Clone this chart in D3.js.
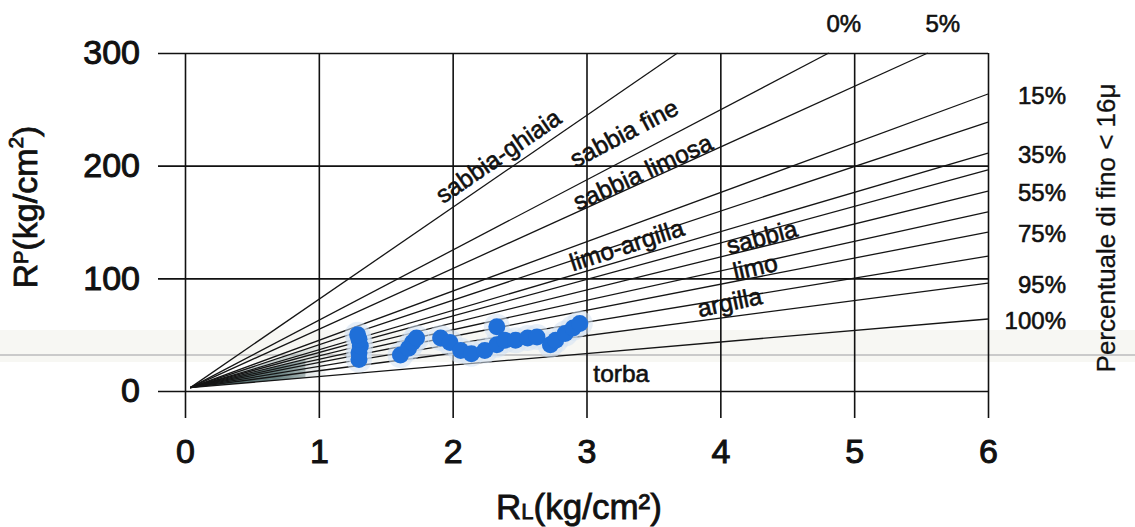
<!DOCTYPE html>
<html>
<head>
<meta charset="utf-8">
<script src="https://cdn.jsdelivr.net/npm/d3@7"></script>
<style>
  body { margin: 0; background: #fff; }
  svg { font-family: "Liberation Sans", Arial, sans-serif; }
</style>
</head>
<body>
<div id="chart"></div>
<script>
// chart size
const width = 1135;
const height = 527;

// axis ticks
const xTicks = [0, 1, 2, 3, 4, 5, 6];
const yTicks = [0, 100, 200, 300];

// Begemann fan lines: end point of each line (RL, RP)
const fanEndRL = [3.68, 4.81, 5.55, 6, 6, 6, 6, 6, 6, 6, 6, 6, 6];
const fanEndRP = [300, 300, 300, 263.6, 238.7, 211.2, 196.2, 177.5, 158.9, 141.1, 119.8, 95.8, 63.9];
const fanOrigin = [0.04, 3];

// percent of fines, shown at the end of some lines
const pctLine = [1, 2, 3, 5, 7, 9, 11, 12];
const pctText = ["0%", "5%", "15%", "35%", "55%", "75%", "95%", "100%"];

// soil class names
const soilNames = ["sabbia-ghiaia", "sabbia fine", "sabbia limosa", "limo-argilla", "sabbia", "limo", "argilla", "torba"];
const soilRL = [2.34, 3.28, 3.42, 3.30, 4.31, 4.26, 4.07, 3.26];
const soilRP = [208.6, 229, 194.4, 129.6, 136.7, 110, 79, 16];
const soilAngle = [-34.5, -27.7, -24.5, -18, -15, -13, -12, 0];

// measured points
const rlValues = [1.30, 1.30, 1.31, 1.30, 1.29, 1.61, 1.67, 1.70, 1.73,
  1.91, 1.98, 2.06, 2.14, 2.24, 2.33, 2.33, 2.39, 2.47, 2.56, 2.63, 2.73, 2.77, 2.84, 2.90, 2.95];
const rpValues = [28, 34, 40, 46, 50, 32, 38, 43, 47,
  47, 43, 36, 33, 36, 57, 41, 45, 45, 47, 48, 41, 45, 51, 56, 60];

const svg = d3.select("#chart")
  .append("svg")
  .attr("width", width)
  .attr("height", height);

const x = d3.scaleLinear().domain([0, 6]).range([185, 988]);
const y = d3.scaleLinear().domain([0, 300]).range([391, 53]);

// scan artefact: pale band and grey streak
svg.append("rect")
  .attr("x", 0).attr("y", 330).attr("width", width).attr("height", 32)
  .attr("fill", "#f7f7f3");
svg.append("line")
  .attr("x1", 0).attr("x2", width).attr("y1", 355).attr("y2", 355)
  .attr("stroke", "#cacaca").attr("stroke-width", 2);

// dark wedge near the origin (dense lines)
const defs = svg.append("defs");
function fade(id, color, op) {
  const g = defs.append("linearGradient").attr("id", id)
    .attr("gradientUnits", "userSpaceOnUse")
    .attr("x1", x(0)).attr("x2", x(1.05)).attr("y1", 0).attr("y2", 0);
  g.append("stop").attr("offset", "0%").attr("stop-color", color).attr("stop-opacity", op);
  g.append("stop").attr("offset", "65%").attr("stop-color", color).attr("stop-opacity", op * 0.75);
  g.append("stop").attr("offset", "100%").attr("stop-color", color).attr("stop-opacity", 0.1);
}
fade("wedgeLight", "#8a9e9e", 0.6);
fade("wedgeDark", "#3b5a5a", 0.9);
const slope = i => (fanEndRP[i] - fanOrigin[1]) / (fanEndRL[i] - fanOrigin[0]);
const lineAt = (i, rl) => fanOrigin[1] + slope(i) * (rl - fanOrigin[0]);
function wedge(top, bottom, rl, fill) {
  svg.append("path")
    .attr("d", d3.line()([
      [x(fanOrigin[0]), y(fanOrigin[1])],
      [x(rl), y(lineAt(top, rl))],
      [x(rl), y(lineAt(bottom, rl))]
    ]) + "Z")
    .attr("fill", fill);
}
wedge(4, 12, 1.05, "url(#wedgeLight)");
wedge(7, 12, 0.9, "url(#wedgeDark)");

// gridlines through axes
const xAxis = svg.append("g")
  .attr("transform", "translate(0,418)")
  .call(d3.axisBottom(x).tickValues(xTicks).tickSize(-(418 - 53)).tickPadding(21).tickFormat(d3.format("d")));
const yAxis = svg.append("g")
  .attr("transform", "translate(158,0)")
  .call(d3.axisLeft(y).tickValues(yTicks).tickSize(-(988 - 158)).tickPadding(18).tickFormat(d3.format("d")));

[xAxis, yAxis].forEach(a => {
  a.select(".domain").remove();
  a.selectAll(".tick line").attr("stroke", "#111").attr("stroke-width", 1.6);
  a.selectAll(".tick text")
    .attr("fill", "#111")
    .style("font-size", "34px")
    .style("font-family", "Liberation Sans, Arial, sans-serif")
    .attr("stroke", "#111").attr("stroke-width", 1);
});

// fan lines
svg.append("g")
  .selectAll("line")
  .data(fanEndRL)
  .enter().append("line")
  .attr("x1", x(fanOrigin[0]))
  .attr("y1", y(fanOrigin[1]))
  .attr("x2", d => x(d))
  .attr("y2", (d, i) => y(fanEndRP[i]))
  .attr("stroke", "#151515")
  .attr("stroke-width", 1.3);

// points: halo then dots
const pts = rlValues.map((d, i) => ({ rl: d, rp: rpValues[i] }));
svg.append("g")
  .selectAll("circle")
  .data(pts)
  .enter().append("circle")
  .attr("cx", d => x(d.rl))
  .attr("cy", d => y(d.rp))
  .attr("r", 13)
  .attr("fill", "#d3e2f3")
  .attr("opacity", 0.55);
svg.append("g")
  .selectAll("circle")
  .data(pts)
  .enter().append("circle")
  .attr("cx", d => x(d.rl))
  .attr("cy", d => y(d.rp))
  .attr("r", 8.5)
  .attr("fill", "#1f6fd8");

// soil class labels
svg.append("g")
  .selectAll("text")
  .data(soilNames)
  .enter().append("text")
  .attr("transform", (d, i) => `translate(${x(soilRL[i])},${y(soilRP[i])}) rotate(${soilAngle[i]})`)
  .attr("text-anchor", "middle")
  .attr("dy", "0.35em")
  .attr("fill", "#111")
  .attr("stroke", "#111").attr("stroke-width", 0.6)
  .style("font-size", "24.5px")
  .text(d => d);

// percent labels
svg.append("g")
  .selectAll("text")
  .data(pctText)
  .enter().append("text")
  .attr("x", (d, i) => fanEndRP[pctLine[i]] >= 300 ? x(fanEndRL[pctLine[i]]) + 15 : 1066)
  .attr("y", (d, i) => fanEndRP[pctLine[i]] >= 300 ? 24 : y(fanEndRP[pctLine[i]]) + 2)
  .attr("text-anchor", (d, i) => fanEndRP[pctLine[i]] >= 300 ? "middle" : "end")
  .attr("dy", "0.35em")
  .attr("fill", "#111")
  .attr("stroke", "#111").attr("stroke-width", 0.6)
  .style("font-size", "24px")
  .text(d => d);

// right title
svg.append("text")
  .attr("transform", "translate(1106,228) rotate(-90)")
  .attr("text-anchor", "middle")
  .attr("dy", "0.35em")
  .attr("fill", "#111")
  .attr("stroke", "#111").attr("stroke-width", 0.3)
  .style("font-size", "26px")
  .text("Percentuale di fino  < 16μ");

// y axis title
const yTitle = svg.append("text")
  .attr("transform", "translate(37,207) rotate(-90)")
  .attr("text-anchor", "middle")
  .attr("fill", "#111")
  .attr("stroke", "#111").attr("stroke-width", 0.8)
  .style("font-size", "34px");
yTitle.append("tspan").text("R");
yTitle.append("tspan").style("font-size", "20px").attr("dy", "-9").text("P");
yTitle.append("tspan").attr("dy", "9").text("(kg/cm");
yTitle.append("tspan").style("font-size", "21px").attr("dy", "-14").text("2");
yTitle.append("tspan").attr("dy", "14").text(")");

// x axis title
const xTitle = svg.append("text")
  .attr("transform", "translate(579,519)")
  .attr("text-anchor", "middle")
  .attr("fill", "#111")
  .attr("stroke", "#111").attr("stroke-width", 0.8)
  .style("font-size", "35px");
xTitle.append("tspan").text("R");
xTitle.append("tspan").style("font-size", "22px").text("L");
xTitle.append("tspan").text("(kg/cm²)");
</script>
</body>
</html>
